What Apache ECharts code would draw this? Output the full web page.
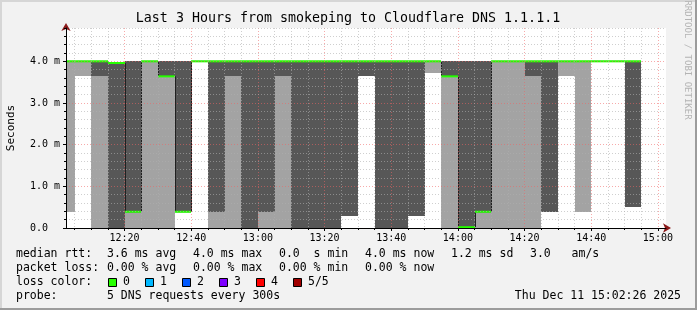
<!DOCTYPE html>
<html><head><meta charset="utf-8">
<script src="https://cdn.jsdelivr.net/npm/echarts@6/dist/echarts.min.js"></script>
<style>html,body{margin:0;padding:0;background:#f2f2f2}#c{width:697px;height:310px}</style>
</head><body><div id="c"></div>
<script>
// ---- data (ms) : one 5-minute step each, labelled by the step end time ----
const stepEnds = ['12:05','12:10','12:15','12:20','12:25','12:30','12:35','12:40','12:45','12:50',
                  '12:55','13:00','13:05','13:10','13:15','13:20','13:25','13:30','13:35','13:40',
                  '13:45','13:50','13:55','14:00','14:05','14:10','14:15','14:20','14:25','14:30',
                  '14:35','14:40','14:45','14:50','14:55'];
const pingMin  = [0.38,3.64,0,   0,   0,   0,   0,   0.39,4.0, 0,   0,   0,   0,   0,   0,   0,   0,   0.30,3.64,0,   0,   0.30,3.71,0,   0,   0,   0,   0,   0,   0.38,3.64,0.38,4.0,4.0,0.50];
const pingLow  = [4.0, 4.0, 3.64,0,   0.39,4.0, 3.64,0.39,4.0, 0.39,3.64,0,   0.38,3.64,0,   0,   0,   0.30,3.64,0,   0,   0.30,4.0, 3.64,0,   0.39,4.0, 4.0, 3.64,0.38,4.0, 4.0, 4.0,4.0,0.50];
const median   = [4.0, 4.0, 4.0, 3.96,0.39,4.0, 3.64,0.39,4.0, 4.0, 4.0, 4.0, 4.0, 4.0, 4.0, 4.0, 4.0, 4.0, 4.0, 4.0, 4.0, 4.0, 4.0, 3.64,0.02,0.39,4.0, 4.0, 4.0, 4.0, 4.0, 4.0, 4.0,4.0,4.0];
const pingHigh = [4.0, 4.0, 4.0, 3.96,4.0, 4.0, 4.0, 4.0, 4.0, 4.0, 4.0, 4.0, 4.0, 4.0, 4.0, 4.0, 4.0, 4.0, 4.0, 4.0, 4.0, 4.0, 4.0, 4.0, 4.0, 4.0, 4.0, 4.0, 4.0, 4.0, 4.0, 4.0, 4.0,4.0,4.0];
const pingMax  = [4.0, 4.0, 4.0, 3.96,4.0, 4.0, 4.0, 4.0, 4.0, 4.0, 4.0, 4.0, 4.0, 4.0, 4.0, 4.0, 4.0, 4.0, 4.0, 4.0, 4.0, 4.0, 4.0, 4.0, 4.0, 4.0, 4.0, 4.0, 4.0, 4.0, 4.0, 4.0, 4.0,4.0,4.0];
const stepMinutes = 5;
const rangeStart = '12:02:26';
const rangeEnd   = '15:02:26';
const xTickLabels = ['12:20','12:40','13:00','13:20','13:40','14:00','14:20','14:40','15:00'];
const yTickValues = [0,1,2,3,4];
const yTickLabels = ['0.0  ','1.0 m','2.0 m','3.0 m','4.0 m'];
const titleText = 'Last 3 Hours from smokeping to Cloudflare DNS 1.1.1.1';
const statsRtt  = ['median rtt:','3.6 ms avg','4.0 ms max','0.0  s min','4.0 ms now','1.2 ms sd','3.0   am/s'];
const statsLoss = ['packet loss:','0.00 % avg','0.00 % max','0.00 % min','0.00 % now'];
const lossLabels = ['0','1','2','3','4','5/5'];
const lossColors = ['#26ff00','#00b8ff','#0059ff','#7e00ff','#ff0000','#a10000'];
const probeText = ['probe:','5 DNS requests every 300s'];
const dateText = 'Thu Dec 11 15:02:26 2025';
const sideText = 'RRDTOOL / TOBI OETIKER';

// ---- helpers ----
function toMin(s){const p=s.split(':').map(Number);return (p[0]-12)*60+p[1]+(p[2]||0)/60;}
const X0 = toMin(rangeStart), X1 = toMin(rangeEnd);
const data = stepEnds.map((t,i)=>{const e=toMin(t);return [e-stepMinutes,e,pingMin[i],pingLow[i],median[i],pingHigh[i],pingMax[i],i>0?median[i-1]:median[i]];});
const majorX = xTickLabels.map(toMin);
const minorX = []; for(let m=5;m<=180;m+=5){ if(m%20!==0) minorX.push(m); }
const minorY = []; for(let k=1;k<=24;k++){ if(k%5!==0) minorY.push(Math.round(k*2)/10); }

const LIGHT='#a3a3a3', DARK='#575757', GREEN=lossColors[0];
const GRID='rgba(175,175,175,0.6)', MGRID='rgba(240,100,100,0.55)';
const MONO='"DejaVu Sans Mono"';

const chart = echarts.init(document.getElementById('c'), null, {renderer:'canvas'});
const graphics = [
  {type:'rect', shape:{x:0,y:0,width:697,height:2}, style:{fill:'#d6d6d6'}, silent:true},
  {type:'rect', shape:{x:0,y:0,width:2,height:310}, style:{fill:'#d6d6d6'}, silent:true},
  {type:'rect', shape:{x:695,y:0,width:2,height:310}, style:{fill:'#9c9c9c'}, silent:true},
  {type:'rect', shape:{x:0,y:308,width:697,height:2}, style:{fill:'#9c9c9c'}, silent:true},
  {type:'text', x:348, y:19, style:{text:titleText, fontFamily:MONO, fontSize:13.3, fill:'#000', align:'center', verticalAlign:'middle'}},
  {type:'text', x:687, y:60, rotation:-Math.PI/2, style:{text:sideText, fontFamily:MONO, fontSize:9, fill:'#b4b4b4', align:'center', verticalAlign:'middle'}}
];
const colX = [16,107,193,279,365,451,530];
const rowY = [254,268,282,296];
function addRow(items,row){items.forEach((t,i)=>graphics.push({type:'text',x:colX[i],y:rowY[row],style:{text:t,fontFamily:MONO,fontSize:11.5,fill:'#000',align:'left',verticalAlign:'middle'}}));}
addRow(statsRtt,0); addRow(statsLoss,1);
graphics.push({type:'text',x:colX[0],y:rowY[2],style:{text:'loss color:',fontFamily:MONO,fontSize:11.5,fill:'#000',align:'left',verticalAlign:'middle'}});
lossLabels.forEach((l,i)=>{
  const bx = 108 + i*37;
  graphics.push({type:'rect',shape:{x:bx+0.5,y:278.5,width:8,height:8},style:{fill:lossColors[i],stroke:'#000',lineWidth:1}});
  graphics.push({type:'text',x:bx+15,y:rowY[2],style:{text:l,fontFamily:MONO,fontSize:11.5,fill:'#000',align:'left',verticalAlign:'middle'}});
});
addRow(probeText,3);
graphics.push({type:'text',x:681,y:rowY[3],style:{text:dateText,fontFamily:MONO,fontSize:11.5,fill:'#000',align:'right',verticalAlign:'middle'}});

const option = {
  backgroundColor:'#f2f2f2',
  animation:false,
  grid:{left:66,top:28,width:600,height:200,containLabel:false,outerBoundsMode:'none',show:true,backgroundColor:'#fff',borderWidth:0},
  xAxis:[
    {type:'value',min:X0,max:X1,position:'bottom',z:12,
     axisLine:{show:true,onZero:false,lineStyle:{color:'#000',width:1}},
     axisTick:{show:true,length:2,customValues:minorX,lineStyle:{color:'#000'}},
     axisLabel:{show:false},
     splitLine:{show:true,lineStyle:{color:GRID,width:1,type:[1,2]}}},
    {type:'value',min:X0,max:X1,position:'bottom',z:11,
     axisLine:{show:true,onZero:false,symbol:['none','arrow'],symbolSize:[7,8],symbolOffset:[0,5],lineStyle:{color:'#8b1a1a',width:1}},
     axisTick:{show:true,length:3,customValues:majorX,lineStyle:{color:'#000'}},
     axisLabel:{show:true,customValues:majorX,margin:5,fontFamily:MONO,fontSize:10,color:'#000',
       formatter:v=>{const i=majorX.findIndex(m=>Math.abs(m-v)<1e-6);return i>=0?xTickLabels[i]:'';}},
     splitLine:{show:true,lineStyle:{color:MGRID,width:1,type:[1,2]}}}
  ],
  yAxis:[
    {type:'value',min:0,max:4.8,position:'left',z:12,
     axisLine:{show:true,onZero:false,lineStyle:{color:'#000',width:1}},
     axisTick:{show:true,length:2,customValues:minorY,lineStyle:{color:'#000'}},
     axisLabel:{show:false},
     splitLine:{show:true,lineStyle:{color:GRID,width:1,type:[1,2]}}},
    {type:'value',min:0,max:4.8,position:'left',z:11,
     name:'Seconds',nameLocation:'middle',nameGap:49,nameRotate:90,
     nameTextStyle:{fontFamily:MONO,fontSize:11,color:'#000'},
     axisLine:{show:true,onZero:false,symbol:['none','arrow'],symbolSize:[7,8],symbolOffset:[0,5],lineStyle:{color:'#8b1a1a',width:1}},
     axisTick:{show:true,length:3,customValues:yTickValues,lineStyle:{color:'#000'}},
     axisLabel:{show:true,customValues:yTickValues,margin:6,fontFamily:MONO,fontSize:10,color:'#000',
       formatter:v=>{const i=yTickValues.findIndex(m=>Math.abs(m-v)<1e-6);return i>=0?yTickLabels[i]:'';}},
     splitLine:{show:true,lineStyle:{color:MGRID,width:1,type:[1,2]}}}
  ],
  graphic:graphics,
  series:[{
    type:'custom',xAxisIndex:0,yAxisIndex:0,z:2,silent:true,
    encode:{x:[0,1],y:[2,3,4,5,6]},
    data:data,
    renderItem:function(params,api){
      const cs=params.coordSys;
      let xs=Math.round(api.coord([api.value(0),0])[0]);
      let xe=Math.round(api.coord([api.value(1),0])[0]);
      xs=Math.max(xs,cs.x); xe=Math.min(xe,cs.x+cs.width);
      if(xe<=xs) return null;
      const Y=v=>Math.round(api.coord([api.value(0),v])[1]);
      const lo1=Y(api.value(2)),lo2=Y(api.value(3)),med=api.coord([api.value(0),api.value(4)])[1],
            hi2=Y(api.value(5)),hi1=Y(api.value(6)),prev=api.coord([api.value(0),api.value(7)])[1];
      const w=xe-xs;
      return {type:'group',children:[
        {type:'rect',shape:{x:xs,y:hi1,width:w,height:lo1-hi1},style:{fill:LIGHT}},
        {type:'rect',shape:{x:xs,y:hi2,width:w,height:lo2-hi2},style:{fill:DARK}},
        {type:'polyline',shape:{points:[[xs+0.5,prev],[xs+0.5,med],[xe,med]]},style:{stroke:'#202020',lineWidth:1,fill:null}},
        {type:'rect',shape:{x:xs,y:med-1,width:w,height:2},style:{fill:GREEN}}
      ]};
    }
  }]
};
chart.setOption(option);
</script></body></html>
